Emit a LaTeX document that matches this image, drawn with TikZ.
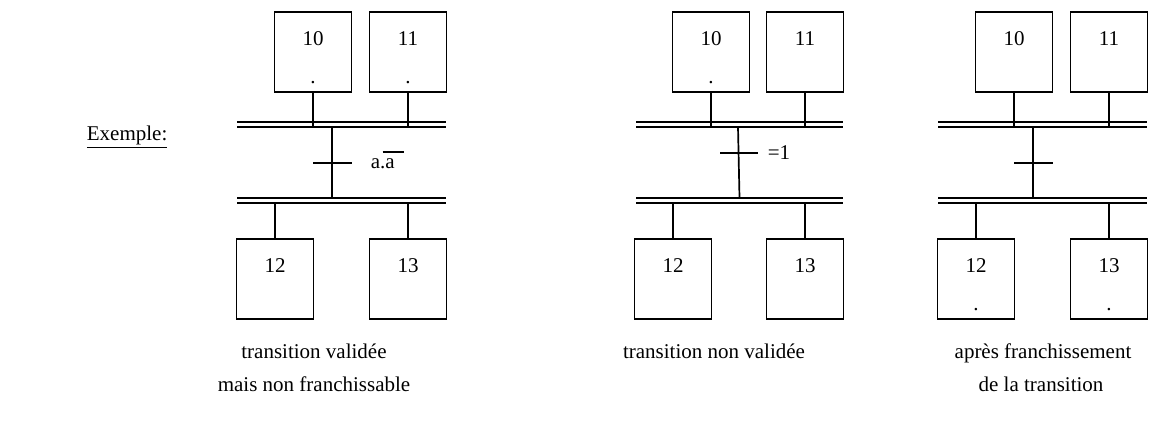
\documentclass[tikz,border=0pt]{standalone}
\usepackage{fontspec}
\setmainfont{Liberation Serif}
\begin{document}
\begin{tikzpicture}[x=1pt,y=-1pt,
  line width=1.7pt,
  stepbox/.style={draw,rectangle,minimum width=77pt,minimum height=80pt,inner sep=0pt,line width=1.7pt},
  txt/.style={inner sep=0pt,anchor=base,font=\fontsize{21}{25}\selectfont},
  lbl/.style={inner sep=0pt,anchor=base west,font=\fontsize{21}{25}\selectfont},
  bar/.style={line width=1.6pt}]
\useasboundingbox (0,0) rectangle (1166,427);

% heading
\node[txt,anchor=base west] (ex) at (86,141) {\underline{Exemple:}};

% ---------- first example: validated but not firable ----------
\node[stepbox] (a10) at (313,52) {};
\node[stepbox] (a11) at (408,52) {};
\node[txt] (a10n) at (313,46) {10};
\node[txt] (a10d) at (313,84) {.};
\node[txt] (a11n) at (408,46) {11};
\node[txt] (a11d) at (408,84) {.};
\coordinate (aT1) at (237,122); \coordinate (aT2) at (446,122);
\coordinate (aT3) at (237,127); \coordinate (aT4) at (446,127);
\coordinate (aB1) at (237,198); \coordinate (aB2) at (446,198);
\coordinate (aB3) at (237,203); \coordinate (aB4) at (446,203);
\draw[bar] (aT1) -- (aT2); \draw[bar] (aT3) -- (aT4);
\draw[bar] (aB1) -- (aB2); \draw[bar] (aB3) -- (aB4);
\draw (a10.south) -- (a10.south |- aT3);
\draw (a11.south) -- (a11.south |- aT3);
\coordinate (atr1) at (332,127); \coordinate (atr2) at (332,198);
\draw (atr1) -- (atr2);
\coordinate (atk1) at (313,163); \coordinate (atk2) at (352,163);
\draw (atk1) -- (atk2);
\node[lbl] (acond) at (370,169) {a.a\kern-12pt\rule[16pt]{21pt}{1.5pt}};
\node[stepbox] (a12) at (275,279) {};
\node[stepbox] (a13) at (408,279) {};
\node[txt] (a12n) at (275,273) {12};
\node[txt] (a13n) at (408,273) {13};
\draw (a12.north) -- (a12.north |- aB3);
\draw (a13.north) -- (a13.north |- aB3);
\node[txt] (acap1) at (314,358) {transition validée};
\node[txt] (acap2) at (314,391) {mais non franchissable};

% ---------- second example: not validated ----------
\node[stepbox] (b10) at (711,52) {};
\node[stepbox] (b11) at (805,52) {};
\node[txt] (b10n) at (711,46) {10};
\node[txt] (b10d) at (711,84) {.};
\node[txt] (b11n) at (805,46) {11};
\coordinate (bT1) at (636,122); \coordinate (bT2) at (843,122);
\coordinate (bT3) at (636,127); \coordinate (bT4) at (843,127);
\coordinate (bB1) at (636,198); \coordinate (bB2) at (843,198);
\coordinate (bB3) at (636,203); \coordinate (bB4) at (843,203);
\draw[bar] (bT1) -- (bT2); \draw[bar] (bT3) -- (bT4);
\draw[bar] (bB1) -- (bB2); \draw[bar] (bB3) -- (bB4);
\draw (b10.south) -- (b10.south |- bT3);
\draw (b11.south) -- (b11.south |- bT3);
\coordinate (btr1) at (738,127); \coordinate (btr2) at (739.5,198);
\draw (btr1) -- (btr2);
\coordinate (btk1) at (720,153); \coordinate (btk2) at (758,153);
\draw (btk1) -- (btk2);
\node[lbl] (bcond) at (767,160) {=1};
\node[stepbox] (b12) at (673,279) {};
\node[stepbox] (b13) at (805,279) {};
\node[txt] (b12n) at (673,273) {12};
\node[txt] (b13n) at (805,273) {13};
\draw (b12.north) -- (b12.north |- bB3);
\draw (b13.north) -- (b13.north |- bB3);
\node[txt] (bcap1) at (714,358) {transition non validée};

% ---------- third example: after firing ----------
\node[stepbox] (c10) at (1014,52) {};
\node[stepbox] (c11) at (1109,52) {};
\node[txt] (c10n) at (1014,46) {10};
\node[txt] (c11n) at (1109,46) {11};
\coordinate (cT1) at (938,122); \coordinate (cT2) at (1147,122);
\coordinate (cT3) at (938,127); \coordinate (cT4) at (1147,127);
\coordinate (cB1) at (938,198); \coordinate (cB2) at (1147,198);
\coordinate (cB3) at (938,203); \coordinate (cB4) at (1147,203);
\draw[bar] (cT1) -- (cT2); \draw[bar] (cT3) -- (cT4);
\draw[bar] (cB1) -- (cB2); \draw[bar] (cB3) -- (cB4);
\draw (c10.south) -- (c10.south |- cT3);
\draw (c11.south) -- (c11.south |- cT3);
\coordinate (ctr1) at (1033,127); \coordinate (ctr2) at (1033,198);
\draw (ctr1) -- (ctr2);
\coordinate (ctk1) at (1014,163); \coordinate (ctk2) at (1053,163);
\draw (ctk1) -- (ctk2);
\node[stepbox] (c12) at (976,279) {};
\node[stepbox] (c13) at (1109,279) {};
\node[txt] (c12n) at (976,273) {12};
\node[txt] (c12d) at (976,311) {.};
\node[txt] (c13n) at (1109,273) {13};
\node[txt] (c13d) at (1109,311) {.};
\draw (c12.north) -- (c12.north |- cB3);
\draw (c13.north) -- (c13.north |- cB3);
\node[txt] (ccap1) at (1043,358) {après franchissement};
\node[txt] (ccap2) at (1041,391) {de la transition};
\end{tikzpicture}
\end{document}
